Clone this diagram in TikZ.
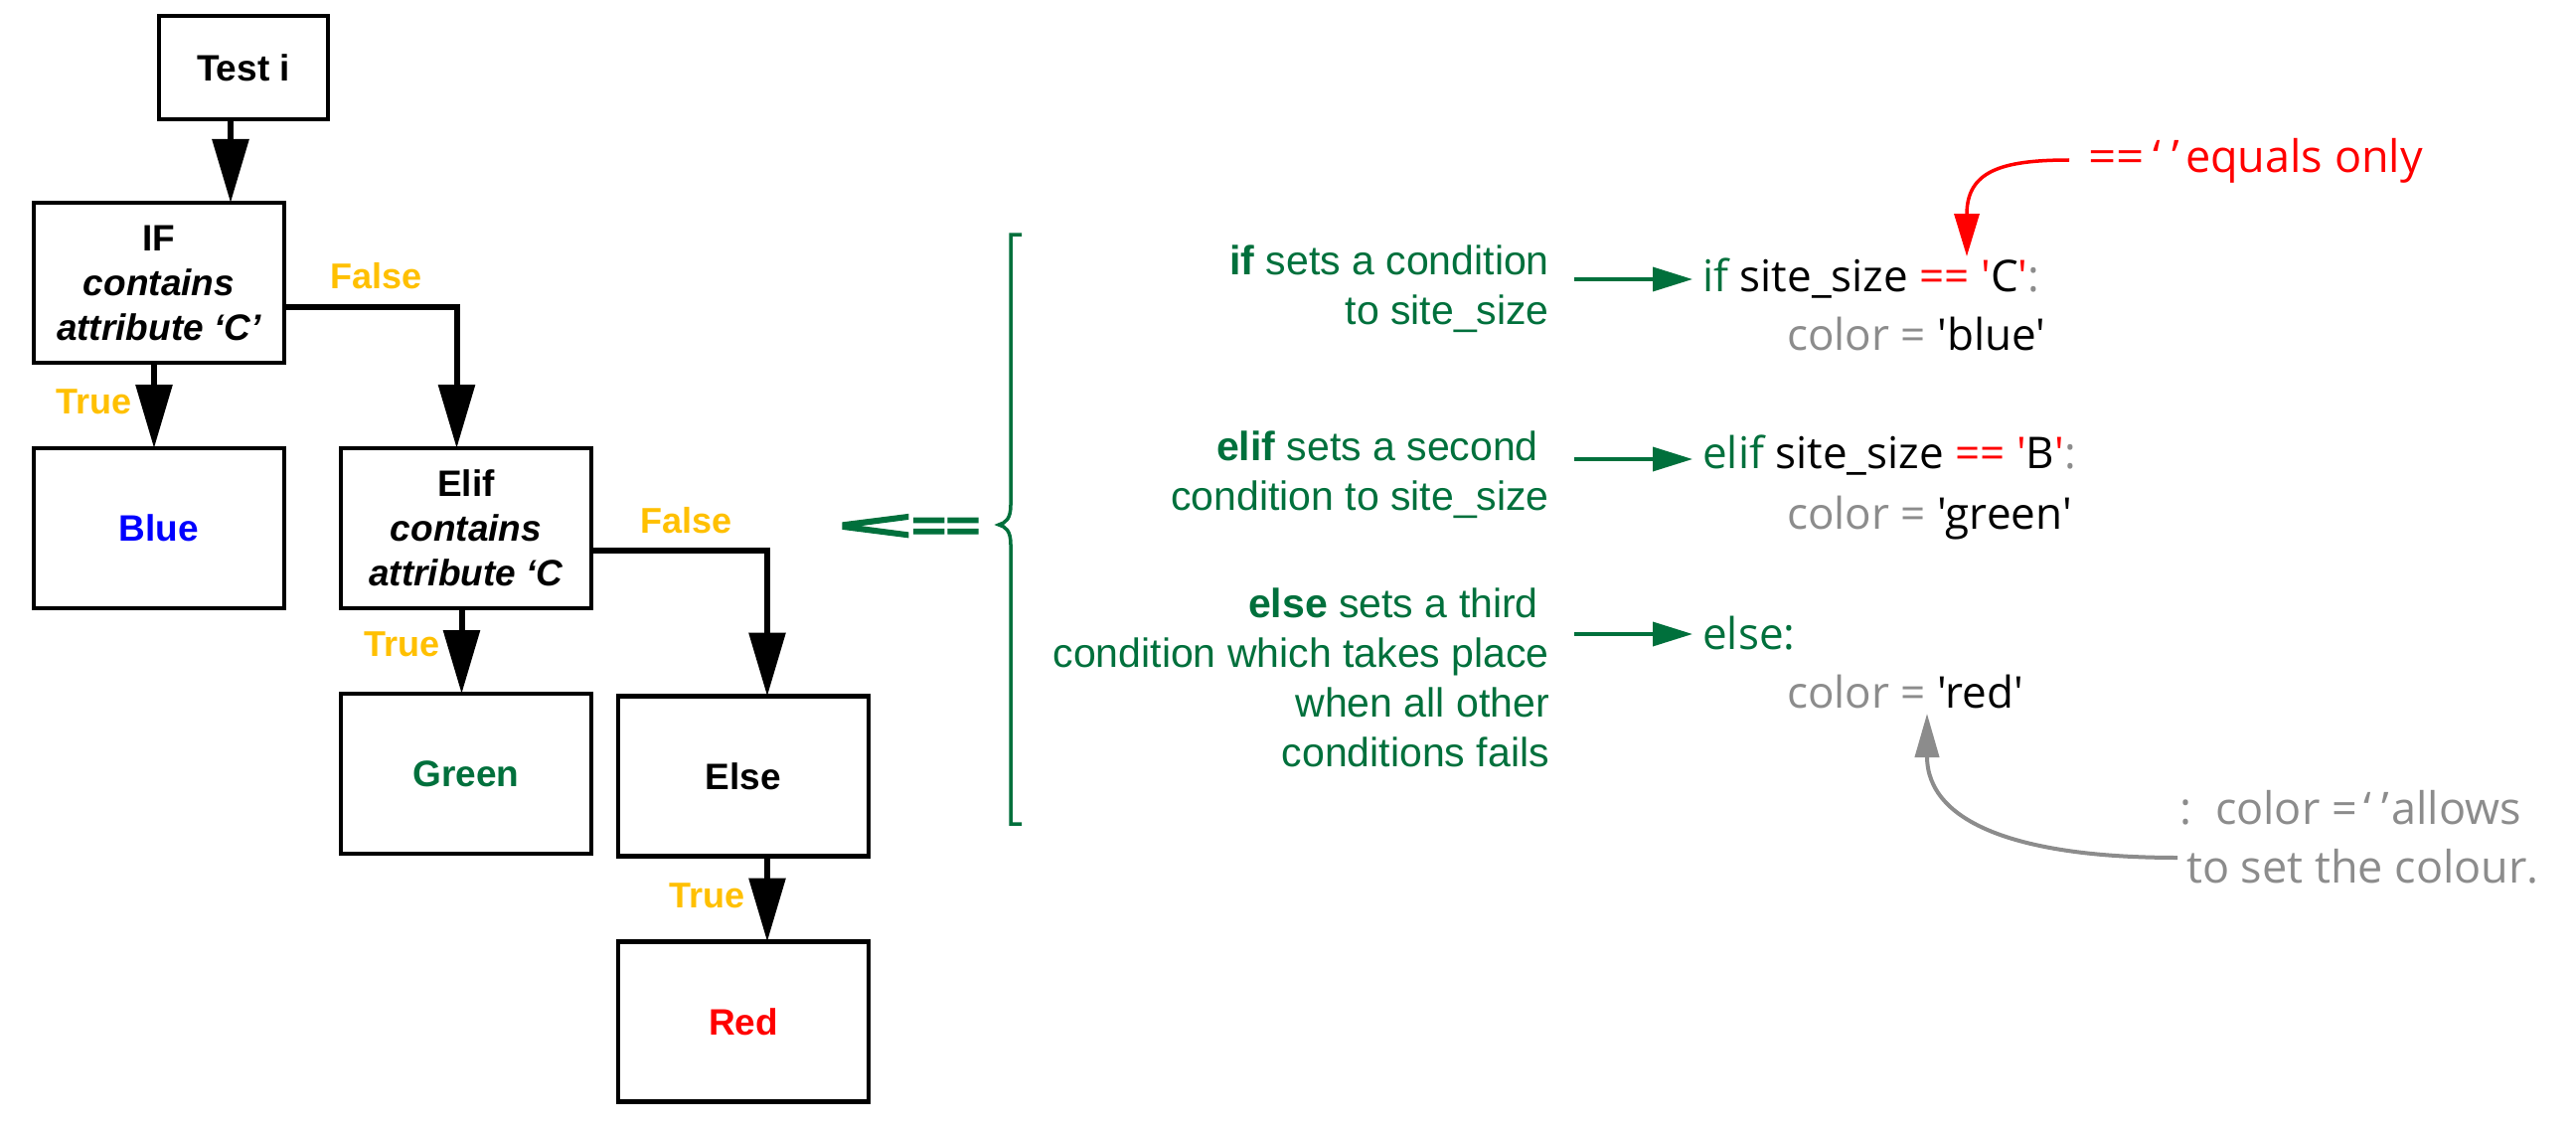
\documentclass[tikz,border=0pt]{standalone}
\usepackage{fontspec}
\setmainfont{Liberation Sans}
\newfontfamily\codefont{Open Sans}[Ligatures=TeXOff]
\newfontfamily\heavyfont{Liberation Sans}[BoldFeatures={FakeBold=3}]
\usetikzlibrary{arrows.meta, positioning}
\definecolor{codegreen}{RGB}{0,112,60}
\definecolor{labelorange}{RGB}{255,192,0}
\definecolor{notegray}{RGB}{140,140,140}
\tikzstyle{block} = [draw, line width=4.5pt, rectangle, minimum width=252pt, minimum height=161pt, inner sep=0pt, outer sep=0pt, align=center, font=\fontsize{37}{45}\selectfont\bfseries]
\tikzstyle{flow} = [line width=6pt, -{Triangle[length=64pt,width=36pt]}]
\tikzstyle{branch} = [text=labelorange, font=\fontsize{36}{40}\selectfont\bfseries, anchor=base west, inner sep=0pt]
\tikzstyle{note} = [text=codegreen, font=\fontsize{41}{50}\selectfont, align=right, anchor=north east, inner sep=0pt]
\tikzstyle{code} = [font=\codefont\fontsize{44}{59}\selectfont, anchor=base west, inner sep=0pt]
\tikzstyle{remark} = [code, font=\codefont\fontsize{45}{59}\selectfont]
\tikzstyle{pointer} = [codegreen, line width=3.5pt, -{Triangle[length=40pt,width=24pt]}]
\tikzstyle{redpointer} = [red, line width=3.5pt, -{Triangle[length=43pt,width=25pt]}]
\tikzstyle{graypointer} = [notegray, line width=4pt, -{Triangle[length=44pt,width=24pt]}]
\newcommand{\gry}[1]{\textcolor{notegray}{#1}}
\newcommand{\eqs}[1]{\textcolor{red}{#1}}

\begin{document}
\begin{tikzpicture}[x=1pt, y=-1pt]
  \path[use as bounding box, fill=white] (0,0) rectangle (2592,1137);

  \node[block, minimum width=170pt, minimum height=104pt] (test) at (245,68) {Test i};
  \node[block] (ifbox) at (160,284.5) {IF\\\textit{contains}\\\textit{attribute ‘C’}};
  \node[block, text=blue, below=86pt of ifbox] (blue) {Blue};
  \node[block, right=57pt of blue] (elif) {Elif\\\textit{contains}\\\textit{attribute ‘C}};
  \node[block, text=codegreen, below=86pt of elif] (green) {Green};
  \node[block, right=27pt of green, yshift=-2.5pt] (else) {Else};
  \node[block, text=red, below=86pt of else] (red) {Red};

  \draw[flow] ([xshift=-13pt]test.south) -- ([xshift=72pt]ifbox.north);
  \draw[flow] ([xshift=-5pt]ifbox.south) -- ([xshift=-5pt]blue.north);
  \draw[flow] ([yshift=-24.5pt]ifbox.east) -| ([xshift=-9.5pt]elif.north);
  \draw[flow] ([xshift=-4.5pt]elif.south) -- ([xshift=-4.5pt]green.north);
  \draw[flow] ([yshift=-22.5pt]elif.east) -| ([xshift=24pt]else.north);
  \draw[flow] ([xshift=24pt]else.south) -- ([xshift=24pt]red.north);

  \node[branch] (iffalse) at (332,290) {False};
  \node[branch] (iftrue) at (56,416) {True};
  \node[branch] (eliffalse) at (644,536) {False};
  \node[branch] (eliftrue) at (366,660) {True};
  \node[branch] (elsetrue) at (673,913) {True};

  \node[text=codegreen, inner sep=0pt, anchor=base, font=\heavyfont\fontsize{42}{42}\selectfont\bfseries] (points) at (915,543) {\scalebox{3}[1]{<}\scalebox{1.4}[1]{==}};
  \draw[codegreen, line width=3.5pt] (1028,236) -- (1017,236) -- (1017,508)
    .. controls (1017,522) and (1012,526) .. (1005,528)
    .. controls (1012,530) and (1017,534) .. (1017,548) -- (1017,829) -- (1028,829);

  \node[note] (ifnote) at (1559,247) {\textbf{if} sets a condition\\to site\_size};
  \node[note] (elifnote) at (1559,434) {\textbf{elif} sets a second\hspace*{11pt}\\condition to site\_size};
  \node[note] (elsenote) at (1559,592) {\textbf{else} sets a third\hspace*{11pt}\\condition which takes place\\when all other\hspace*{11pt}\\conditions fails};

  \node[code] (ifcode) at (1713,293) {\textcolor{codegreen}{if} site\_size \eqs{== '}C\eqs{'}\gry{:}};
  \node[code] (bluecode) at (1798,352) {\gry{color =} 'blue'};
  \node[code] (elifcode) at (1713,471) {\textcolor{codegreen}{elif} site\_size \eqs{== '}B\eqs{'}\gry{:}};
  \node[code] (greencode) at (1798,532) {\gry{color =} 'green'};
  \node[code, text=codegreen] (elsecode) at (1713,653) {else:};
  \node[code] (redcode) at (1798,712) {\gry{color =} 'red'};

  \draw[pointer] ([xshift=-129pt,yshift=12pt]ifcode.base west) -- ([xshift=-10pt,yshift=12pt]ifcode.base west);
  \draw[pointer] ([xshift=-129pt,yshift=9pt]elifcode.base west) -- ([xshift=-10pt,yshift=9pt]elifcode.base west);
  \draw[pointer] ([xshift=-129pt,yshift=15pt]elsecode.base west) -- ([xshift=-10pt,yshift=15pt]elsecode.base west);

  \node[remark, text=red] (equalsnote) at (2101,173) {\scalebox{1.1}[1]{==}\hspace{9pt}‘\hspace{11pt}’\hspace{6pt}equals only};
  \draw[redpointer] ([xshift=-19pt,yshift=12pt]equalsnote.base west) .. controls +(-70,0) and +(0,-85) .. ([xshift=266pt,yshift=35pt]ifcode.base west);

  \node[remark, text=notegray, anchor=base east] (allowsnote) at (2537,829) {:\ \ color =\hspace{7pt}‘\hspace{10pt}’\hspace{2pt}allows};
  \node[remark, text=notegray] (colournote) at (2200,888) {to set the colour.};
  \draw[graypointer] ([xshift=-9pt,yshift=25pt]colournote.base west) .. controls +(-160,0) and +(0,110) .. ([xshift=141pt,yshift=-6pt]redcode.base west);
\end{tikzpicture}
\end{document}
